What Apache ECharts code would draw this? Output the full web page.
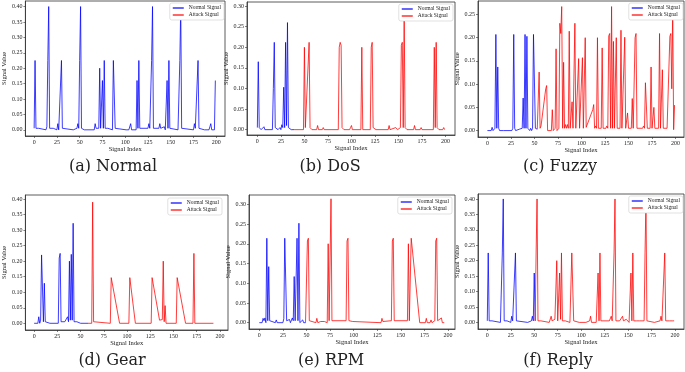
<!DOCTYPE html>
<html>
<head>
<meta charset="utf-8">
<script src="https://cdn.jsdelivr.net/npm/echarts@6/dist/echarts.min.js"></script>
<style>
  html, body { margin: 0; padding: 0; background: #fff; }
  #chart { width: 685px; height: 372px; }
</style>
</head>
<body>
<div id="chart"></div>
<script>
// subplot captions
var captions = ['(a) Normal', '(b) DoS', '(c) Fuzzy', '(d) Gear', '(e) RPM', '(f) Reply']
var seriesNames = ['Normal Signal', 'Attack Signal']

// tick labels
var xTicks = [0, 25, 50, 75, 100, 125, 150, 175, 200]
var yTicks40 = [0, 0.05, 0.10, 0.15, 0.20, 0.25, 0.30, 0.35, 0.40]
var yTicks30 = [0, 0.05, 0.10, 0.15, 0.20, 0.25, 0.30]
var yTicks25 = [0, 0.05, 0.10, 0.15, 0.20, 0.25]

// (a) Normal  -- [signal index, value]
var normalA = [[0,0.005],[1,0.225],[2,0.005],[4,0],[5,0.005],[6,0],[13,0],[14,0.01],[15,0.225],[16,0.4],[17,0.005],[19,0],[21,0.005],[22,0],[25,0],[26,0.02],[27,0],[29,0.005],[30,0.225],[31,0.005],[33,0],[43,0],[44,0.005],[45,0],[47,0.005],[48,0.02],[49,0.005],[50,0.225],[51,0.4],[52,0.005],[55,0],[56,0.005],[57,0],[66,0],[67,0.02],[68,0.005],[70,0.01],[71,0.005],[72,0.2],[73,0.005],[74,0.005],[75,0.16],[76,0.005],[77,0.225],[78,0.005],[80,0],[81,0.005],[82,0],[86,0],[87,0.225],[88,0.225],[89,0.005],[91,0],[101,0],[102,0.005],[104,0],[106,0.02],[107,0],[112,0],[113,0.16],[114,0.005],[115,0.225],[116,0.005],[118,0],[125,0.005],[126,0.02],[127,0.005],[129,0.225],[130,0.4],[131,0.005],[133,0],[137,0.005],[138,0.02],[139,0.005],[141,0],[143,0.01],[144,0],[145,0.005],[146,0.16],[147,0.005],[148,0.225],[149,0.005],[151,0],[158,0],[159,0.005],[160,0.225],[161,0.4],[162,0.005],[164,0],[175,0],[176,0.02],[177,0.005],[179,0.005],[180,0.225],[181,0.005],[183,0],[187,0],[188,0.005],[189,0],[192,0],[193,0.01],[194,0.02],[195,0],[198,0],[199,0.16]]
var attackA = []

// (b) DoS
var normalB = [[0,0.005],[1,0.165],[2,0.005],[4,0],[6,0],[7,0.007],[8,0],[16,0],[17,0.1],[18,0.212],[19,0.005],[21,0.005],[22,0],[24,0.005],[25,0],[26,0.012],[27,0.005],[28,0.103],[29,0.005],[30,0.212],[31,0.01],[32,0.26],[33,0.005],[35,0.005],[36,0],[39,0]]
var attackB = [[39,0],[49,0],[50,0.2],[51,0.005],[53,0.005],[55,0.212],[56,0.005],[58,0],[63,0],[64,0.01],[65,0],[69,0],[70,0.005],[71,0],[86,0],[87,0.2],[88,0.212],[89,0.205],[90,0.005],[92,0],[98,0],[99,0.005],[100,0.01],[101,0],[110,0],[111,0.2],[112,0],[120,0],[121,0.2],[122,0.212],[123,0.005],[125,0.005],[126,0],[139,0],[140,0.01],[141,0],[147,0.005],[148,0.005],[149,0],[152,0.005],[153,0.205],[154,0.212],[155,0.005],[156,0.28],[157,0.005],[159,0],[166,0],[167,0.01],[168,0],[173,0],[174,0.005],[175,0],[187,0],[188,0.2],[189,0.005],[190,0.212],[191,0.005],[193,0],[197,0],[198,0.005],[199,0]]

// (c) Fuzzy
var normalC = [[0,0],[4,0],[5,0.007],[6,0],[8,0.005],[9,0.207],[10,0.005],[11,0.137],[12,0.005],[13,0],[17,0],[18,0.003],[19,0],[26,0],[27,0.005],[28,0.207],[29,0.005],[30,0],[31,0.003],[32,0],[34,0.003],[35,0],[37,0.005],[38,0.07],[39,0.005],[40,0.207],[41,0.005],[42,0.203],[43,0.005],[45,0],[46,0.005],[47,0],[48,0.005],[49,0.207],[50,0.207],[51,0.005],[53,0.003]]
var attackC = [[53,0.003],[54,0.005],[55,0.126],[56,0.005],[57,0.01],[62,0.09],[63,0.097],[64,0],[68,0],[69,0.045],[70,0],[72,0.005],[73,0.176],[74,0],[76,0.005],[77,0.231],[78,0.209],[79,0.267],[80,0.005],[81,0.147],[82,0.005],[83,0.013],[84,0.005],[85,0.013],[86,0.005],[87,0.214],[88,0.005],[89,0.005],[90,0.062],[91,0.005],[92,0.005],[93,0.231],[94,0.005],[95,0.005],[96,0.005],[97,0.155],[98,0.005],[99,0.007],[100,0.005],[101,0.157],[102,0.005],[103,0.005],[104,0.2],[105,0.007],[106,0.01],[112,0.045],[113,0.056],[114,0.005],[115,0.01],[116,0.005],[117,0.2],[118,0.005],[121,0.005],[122,0.178],[123,0.005],[126,0.005],[127,0.01],[128,0.005],[129,0.204],[130,0.209],[131,0.005],[132,0.267],[133,0.005],[134,0.192],[135,0.005],[136,0.005],[137,0.2],[138,0.005],[141,0.005],[142,0.216],[143,0.005],[145,0.005],[146,0.201],[147,0.005],[148,0.005],[149,0.038],[150,0.005],[153,0.005],[154,0.069],[155,0.005],[156,0.005],[157,0.2],[158,0.209],[159,0.005],[165,0.005],[166,0.01],[167,0.005],[168,0.103],[169,0.107],[170,0.005],[172,0.005],[173,0.005],[174,0.137],[175,0.005],[176,0.005],[177,0.05],[178,0.005],[182,0.005],[183,0.209],[184,0.005],[185,0.005],[186,0.131],[187,0.005],[191,0.005],[192,0.005],[193,0.005],[194,0.203],[195,0.209],[196,0.09],[197,0.262],[198,0.002],[199,0.055]]

// (d) Gear
var normalD = [[0,0],[4,0],[5,0.021],[6,0],[7,0.01],[8,0.22],[9,0.225],[10,0.005],[11,0.129],[12,0.005],[14,0],[17,0],[18,0.005],[19,0],[26,0],[27,0.21],[28,0.225],[29,0.005],[31,0],[33,0.005],[34,0],[35,0.005],[36,0.021],[37,0.005],[38,0.2],[39,0.01],[40,0.222],[41,0.01],[42,0.322],[43,0.005],[45,0],[46,0.005],[47,0],[50,0],[51,0.003],[52,0],[58,0]]
var attackD = [[58,0],[62,0],[63,0.39],[64,0.005],[66,0],[82,0],[83,0.147],[92,0],[102,0],[103,0.147],[109,0],[126,0],[127,0.147],[135,0.01],[136,0.012],[137,0.005],[138,0.012],[139,0.2],[140,0.005],[141,0.057],[142,0],[153,0],[154,0.147],[163,0],[171,0],[172,0.225],[173,0],[193,0]]

// (e) RPM
var normalE = [[0,0],[3,0],[4,0.011],[5,0.005],[6,0.012],[7,0],[8,0.214],[9,0.005],[10,0.142],[11,0.005],[13,0],[17,0],[18,0.007],[19,0],[22,0],[24,0.005],[25,0],[26,0.01],[27,0.214],[28,0.214],[29,0.005],[31,0],[32,0.008],[33,0],[35,0.012],[36,0.005],[37,0.117],[38,0.005],[39,0.005],[40,0.214],[41,0.005],[42,0.252],[43,0],[45,0],[46,0.007],[47,0],[49,0]]
var attackE = [[49,0],[50,0.005],[51,0.207],[52,0.214],[53,0.005],[55,0],[60,0],[61,0.011],[62,0],[65,0.003],[66,0.005],[67,0.005],[69,0.003],[70,0.003],[72,0],[73,0.2],[74,0.005],[75,0.005],[76,0.314],[77,0.005],[79,0],[92,0.005],[93,0.207],[94,0.214],[95,0.005],[97,0.006],[99,0.003],[100,0],[129,0],[130,0.011],[131,0.003],[132,0.005],[133,0],[140,0.005],[141,0.207],[142,0.214],[143,0.005],[145,0],[157,0.005],[158,0.2],[159,0.005],[160,0.005],[161,0.214],[170,0],[176,0],[177,0.011],[178,0],[181,0],[182,0.007],[183,0],[186,0.005],[187,0.207],[188,0.214],[189,0.005],[191,0],[193,0.012],[194,0],[196,0]]

// (f) Reply
var normalF = [[0,0.005],[1,0.225],[2,0.005],[4,0],[5,0.005],[6,0],[14,0],[15,0.005],[16,0.225],[17,0.4],[18,0.005],[20,0],[21,0.005],[22,0],[25,0],[26,0.02],[27,0.005],[29,0.005],[30,0.225],[31,0.005],[33,0],[43,0],[44,0.005],[45,0],[47,0.005],[48,0.02],[49,0.005],[50,0.16],[51,0.005]]
var attackF = [[51,0.005],[52,0.225],[53,0.4],[54,0.005],[56,0],[57,0.005],[58,0],[66,0],[67,0.005],[68,0.02],[69,0.005],[71,0.005],[72,0.01],[73,0.005],[74,0.2],[75,0.005],[76,0.005],[77,0.16],[78,0.01],[79,0.225],[80,0.005],[82,0],[83,0.005],[84,0],[88,0],[89,0.005],[90,0.225],[91,0.225],[92,0.005],[94,0],[98,0],[99,0.005],[100,0],[105,0],[106,0.005],[107,0],[109,0.005],[110,0.02],[111,0],[116,0],[117,0.005],[118,0.16],[119,0.005],[120,0.225],[121,0.005],[123,0],[130,0.005],[131,0.005],[132,0.02],[133,0.005],[135,0.225],[136,0.4],[137,0.005],[139,0],[141,0.005],[142,0],[143,0.005],[144,0.02],[145,0.005],[147,0.005],[148,0.01],[149,0.005],[151,0],[152,0.005],[153,0.16],[154,0.005],[155,0.225],[156,0.005],[158,0],[159,0.005],[160,0],[162,0.005],[163,0],[167,0.005],[168,0.225],[169,0.4],[170,0.005],[172,0],[178,0],[179,0.005],[180,0],[184,0.005],[185,0.02],[186,0.005],[188,0.005],[189,0.225],[190,0.005],[192,0],[194,0.005],[195,0],[197,0.005],[198,0],[199,0.005]]

var normals = [normalA, normalB, normalC, normalD, normalE, normalF]
var attacks = [attackA, attackB, attackC, attackD, attackE, attackF]
var yTicksList = [yTicks40, yTicks30, yTicks25, yTicks40, yTicks30, yTicks40]

// layout of each subplot (pixels) and axis ranges
var layout = [
  { left: 20, top: 1, width: 205, height: 135, xMin: -9.6, xMax: 209.6, yMin: -0.02, yMax: 0.418, legR: 461, legT: 3, capX: 113, capY: 167 },
  { left: 247, top: 2, width: 208, height: 133, xMin: -11, xMax: 210, yMin: -0.013, yMax: 0.31, legR: 232, legT: 4, capX: 330, capY: 167 },
  { left: 478, top: 1, width: 206, height: 136, xMin: -10, xMax: 209, yMin: -0.0138, yMax: 0.279, legR: 2, legT: 3, capX: 560, capY: 167 },
  { left: 20, top: 195, width: 208, height: 135, xMin: -9.4, xMax: 208.7, yMin: -0.0216, yMax: 0.413, legR: 463, legT: 198, capX: 112, capY: 361 },
  { left: 249, top: 195, width: 206, height: 134, xMin: -10.9, xMax: 207.4, yMin: -0.016, yMax: 0.3236, legR: 233, legT: 197, capX: 331, capY: 361 },
  { left: 478, top: 194, width: 206, height: 135, xMin: -9.9, xMax: 209.5, yMin: -0.0214, yMax: 0.416, legR: 2, legT: 196, capX: 558, capY: 361 }
]

var serif = 'Liberation Serif'
var frameColor = '#333'
var colors = ['#0000ff', '#ff0000']

var grids = [], xAxes = [], yAxes = [], series = [], legends = [], graphics = []

layout.forEach(function (p, i) {
  grids.push({
    left: p.left, top: p.top, width: p.width, height: p.height,
    show: true, borderColor: frameColor, borderWidth: 0.8, backgroundColor: 'transparent'
  })
  xAxes.push({
    type: 'value', gridIndex: i, min: p.xMin, max: p.xMax,
    name: 'Signal Index', nameLocation: 'middle', nameGap: 10,
    nameTextStyle: { fontFamily: serif, fontSize: 6.5, color: '#222' },
    axisLine: { show: true, onZero: false, lineStyle: { color: frameColor, width: 0.8 } },
    axisTick: { show: true, length: 2, customValues: xTicks, lineStyle: { color: frameColor, width: 0.6 } },
    axisLabel: { customValues: xTicks, margin: 3, fontFamily: serif, fontSize: 6, color: '#222', formatter: function (v) { return String(v) } },
    splitLine: { show: false }
  })
  yAxes.push({
    type: 'value', gridIndex: i, min: p.yMin, max: p.yMax,
    name: 'Signal Value', nameLocation: 'middle', nameGap: 14,
    nameTextStyle: { fontFamily: serif, fontSize: 6.5, color: '#222' },
    axisLine: { show: true, onZero: false, lineStyle: { color: frameColor, width: 0.8 } },
    axisTick: { show: true, length: 2, customValues: yTicksList[i], lineStyle: { color: frameColor, width: 0.6 } },
    axisLabel: { customValues: yTicksList[i], margin: 3, fontFamily: serif, fontSize: 6, color: '#222', formatter: function (v) { return v.toFixed(2) } },
    splitLine: { show: false }
  })
  ;[normals[i], attacks[i]].forEach(function (d, k) {
    series.push({
      name: seriesNames[k], type: 'line', xAxisIndex: i, yAxisIndex: i,
      data: d, showSymbol: false, symbol: 'none', silent: true,
      color: colors[k],
      lineStyle: { color: colors[k], width: 0.9, opacity: 0.85 }
    })
  })
  legends.push({
    data: seriesNames, orient: 'vertical', right: p.legR, top: p.legT,
    icon: 'rect', itemWidth: 11, itemHeight: 1.2, itemGap: 1,
    padding: [2, 3, 2, 3], backgroundColor: '#fff',
    borderColor: '#ccc', borderWidth: 0.6, borderRadius: 2,
    selectedMode: false,
    textStyle: { fontFamily: serif, fontSize: 5.5, color: '#222' }
  })
  graphics.push({
    type: 'text', x: p.capX, y: p.capY,
    style: {
      text: captions[i], font: '16px "DejaVu Serif"', fill: '#222',
      align: 'center', verticalAlign: 'middle', textAlign: 'center', textVerticalAlign: 'middle'
    }
  })
})

var myChart = echarts.init(document.getElementById('chart'))
myChart.setOption({
  animation: false,
  backgroundColor: '#fff',
  grid: grids,
  xAxis: xAxes,
  yAxis: yAxes,
  legend: legends,
  series: series,
  graphic: graphics
})
</script>
</body>
</html>
